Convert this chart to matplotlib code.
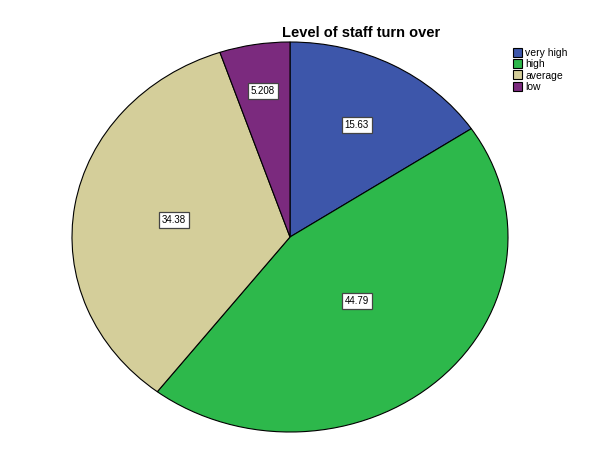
import numpy as np
import matplotlib.pyplot as plt

# staff turn over levels (percent)
categories = ['very high', 'high', 'average', 'low']
percents = [15.63, 44.79, 34.38, 5.208]
colors = ['#3D56AA', '#2DB84B', '#D4CE9A', '#7B2A7E']

# how far out each value label sits (fraction of radius)
label_dist = [0.65, 0.45, 0.54, 0.76]

fig = plt.figure(figsize=(5.92, 4.59), dpi=100)
ax = fig.add_axes([72 / 592, 27 / 459, 436 / 592, 390 / 459])

wedges, _ = ax.pie(percents, colors=colors, startangle=90, counterclock=False,
                   wedgeprops=dict(edgecolor='black', linewidth=0.8))
ax.set_aspect('auto')
ax.set_xlim(-1.0, 1.0)
ax.set_ylim(-1.0, 1.0)
ax.axis('off')

for w, val, d in zip(wedges, percents, label_dist):
    mid = np.deg2rad((w.theta1 + w.theta2) / 2)
    ax.text(d * np.cos(mid), d * np.sin(mid), '{0:.4g}'.format(val),
            ha='center', va='center', fontsize=7, family='Liberation Sans',
            bbox=dict(boxstyle='square,pad=0.3', facecolor='white',
                      edgecolor='#444444', linewidth=0.9))

fig.text(361 / 592, 1 - 33 / 459, 'Level of staff turn over', ha='center', va='center',
         fontsize=10.5, fontweight='bold', family='Liberation Sans')

leg = fig.legend(wedges, categories, loc='upper left', bbox_to_anchor=(508 / 592, 1 - 43 / 459),
                 frameon=False, handlelength=0.85, handleheight=0.95,
                 handletextpad=0.3, labelspacing=0.1, borderpad=0,
                 prop=dict(family='Liberation Sans', size=7.5))

fig.savefig('out.png', dpi=100)
